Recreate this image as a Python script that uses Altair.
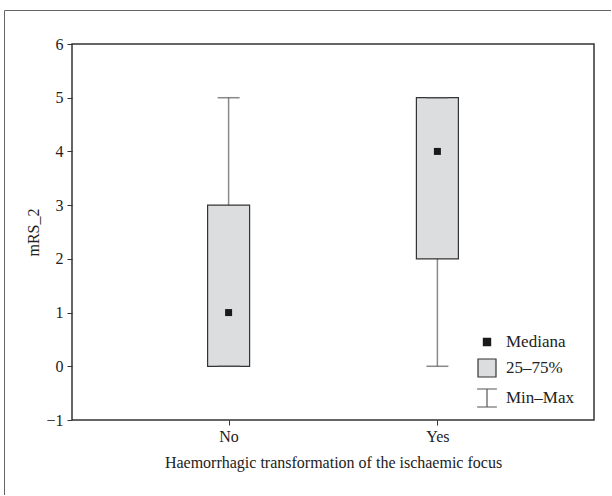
import altair as alt
import pandas as pd

# Data
groups = ["No", "Yes"]
mins = [0, 0]
q1s = [0, 2]
medians = [1, 4]
q3s = [3, 5]
maxs = [5, 5]
legend_items = ["Mediana", "25–75%", "Min–Max"]
y_ticks = [-1, 0, 1, 2, 3, 4, 5, 6]

df = pd.DataFrame({"group": groups, "min": mins, "q1": q1s, "median": medians,
                   "q3": q3s, "max": maxs})
caps = pd.DataFrame({"group": groups * 2, "v": mins + maxs})
leg = pd.DataFrame({"item": legend_items})

FONT = "Liberation Serif"
TOTAL_W, TOTAL_H = 612, 496
W, H = 522, 376
PL, PT = 72, 44

x = alt.X("group:N", scale=alt.Scale(type="point", domain=groups, padding=0.75),
          axis=alt.Axis(title="Haemorrhagic transformation of the ischaemic focus",
                        labelAngle=0, tickSize=5, labelPadding=3, titlePadding=10,
                        domain=False, tickColor="#333"))
yscale = alt.Scale(domain=[-1, 6], nice=False, zero=False)
yaxis = alt.Axis(title="mRS_2", values=y_ticks, format="d", tickSize=5, labelPadding=4,
                 titlePadding=4, grid=False, domain=False, tickColor="#333")

base = alt.Chart(df)

whisker = base.mark_rule(color="#8a8a8a", strokeWidth=1.5).encode(
    x=x, y=alt.Y("min:Q", scale=yscale, axis=yaxis), y2="max:Q")

box = base.mark_bar(size=42, fill="#dcdddf", stroke="#333333", strokeWidth=1.2).encode(
    x=x, y=alt.Y("q1:Q", scale=yscale), y2="q3:Q")

cap = alt.Chart(caps).mark_tick(color="#555555", size=22, thickness=1.5).encode(
    x=x, y=alt.Y("v:Q", scale=yscale))

med = base.mark_square(size=49, color="#1a1a1a", opacity=1).encode(
    x=x, y=alt.Y("median:Q", scale=yscale))

small_sq = "M-0.4,-0.4H0.4V0.4H-0.4Z"
ibeam = "M-1.1,-1H1.1M0,-1V1M-1.1,1H1.1"
leg_opts = dict(title=None, orient="none", legendX=405, legendY=288,
                padding=0, rowPadding=6, labelOffset=9,
                labelFontSize=17, labelFont=FONT, labelColor="#222",
                symbolSize=324, symbolStrokeWidth=1.2)
legend_layer = alt.Chart(leg).transform_filter("datum.item == 'none'").mark_point(
    filled=True, size=324, strokeWidth=1.2, opacity=1).encode(
    shape=alt.Shape("item:N", scale=alt.Scale(domain=legend_items,
                    range=[small_sq, "square", ibeam]), legend=alt.Legend(**leg_opts)),
    fill=alt.Fill("item:N", scale=alt.Scale(domain=legend_items,
                  range=["#1a1a1a", "#dcdddf", "transparent"]), legend=alt.Legend(**leg_opts)),
    stroke=alt.Stroke("item:N", scale=alt.Scale(domain=legend_items,
                      range=["#1a1a1a", "#333333", "#555555"]), legend=alt.Legend(**leg_opts)),
)

# outer page frame: only its left and top edges
fdf = pd.DataFrame({"k": [0]})
frame_left = alt.Chart(fdf).mark_rule(color="#666666", strokeWidth=1, clip=False).encode(
    x=alt.value(4.5 - PL), y=alt.value(10.5 - PT), y2=alt.value(TOTAL_H - PT - 1))
frame_top = alt.Chart(fdf).mark_rule(color="#666666", strokeWidth=1, clip=False).encode(
    x=alt.value(4.5 - PL), x2=alt.value(TOTAL_W - PL - 1), y=alt.value(10.5 - PT))

chart = alt.layer(frame_left, frame_top, whisker, box, cap, med, legend_layer).properties(
    width=W, height=H,
    autosize=alt.AutoSizeParams(type="none"),
    padding={"left": PL, "top": PT, "right": TOTAL_W - PL - W, "bottom": TOTAL_H - PT - H},
    background="white",
).configure_view(stroke="#333333", strokeWidth=1.5).configure_axis(
    labelFont=FONT, titleFont=FONT, labelFontSize=16, titleFontSize=16,
    labelColor="#222", titleColor="#222", titleFontWeight="normal"
)

chart.save("out.html", embed_options={"renderer": "svg", "actions": False})
